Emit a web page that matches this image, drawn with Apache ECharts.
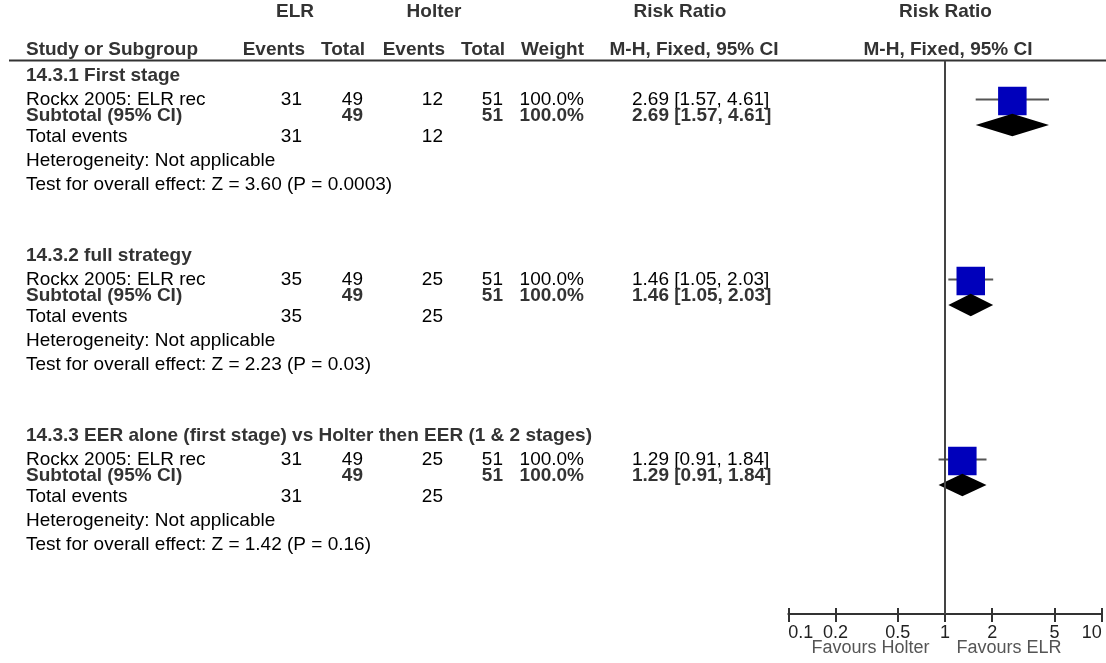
<!DOCTYPE html>
<html><head><meta charset="utf-8">
<script src="https://cdn.jsdelivr.net/npm/echarts@6/dist/echarts.min.js"></script>
<style>html,body{margin:0;padding:0;background:#fff}#c{width:1106px;height:663px}</style>
</head><body><div id="c"></div>
<script>
// ---------- DATA ----------
const groupTitles = ['14.3.1 First stage', '14.3.2 full strategy', '14.3.3 EER alone (first stage) vs Holter then EER (1 & 2 stages)'];
const studyNames = ['Rockx 2005: ELR rec', 'Rockx 2005: ELR rec', 'Rockx 2005: ELR rec'];
const elrEvents = [31, 35, 31];
const elrTotal = [49, 49, 49];
const holterEvents = [12, 25, 25];
const holterTotal = [51, 51, 51];
const weights = [100, 100, 100];
const rr = [2.69, 1.46, 1.29];
const rrLow = [1.57, 1.05, 0.91];
const rrHigh = [4.61, 2.03, 1.84];
const subRr = [2.69, 1.46, 1.29];
const subLow = [1.57, 1.05, 0.91];
const subHigh = [4.61, 2.03, 1.84];
const zValues = ['3.60', '2.23', '1.42'];
const pValues = ['0.0003', '0.03', '0.16'];
const tickValues = [0.1, 0.2, 0.5, 1, 2, 5, 10];
const favourLabels = ['Favours Holter', 'Favours ELR'];

// ---------- LAYOUT ----------
const FONT = "'Liberation Sans', Arial, Helvetica, sans-serif";
const FS = 19;
const TOP = 60.5, AXIS_Y = 614, ROW = 24;
const GROUP_STEP = 7.5;
const R_TITLE = 0.625, R_STUDY = 1.625, R_SUB = 2.29, R_TOTAL = 3.17, R_HET = 4.17, R_TEST = 5.17;
const R_SQUARE = 1.625, R_DIAMOND = 2.6875;
const C_NAME = 26, C_ELR_EV = 302, C_ELR_TOT = 363, C_HOL_EV = 443, C_HOL_TOT = 503, C_W = 584, C_CI = 632;
const HDR_Y1 = 12, HDR_Y2 = 49.3;
const rowPx = r => TOP + r * ROW;

const graphics = [];
function txt(x, y, text, align, bold, color, size) {
  graphics.push({type: 'text', silent: true, style: {
    x: x, y: y, text: String(text), textAlign: align || 'left', textVerticalAlign: 'middle',
    font: (bold ? 'bold ' : '') + (size || FS) + 'px ' + FONT, fill: color || '#000'
  }});
}
const HDR = '#333';
// Column headers
txt(295, HDR_Y1, 'ELR', 'center', true, HDR);
txt(434, HDR_Y1, 'Holter', 'center', true, HDR);
txt(680, HDR_Y1, 'Risk Ratio', 'center', true, HDR);
txt(945.5, HDR_Y1, 'Risk Ratio', 'center', true, HDR);
txt(C_NAME, HDR_Y2, 'Study or Subgroup', 'left', true, HDR);
txt(305, HDR_Y2, 'Events', 'right', true, HDR);
txt(365, HDR_Y2, 'Total', 'right', true, HDR);
txt(445, HDR_Y2, 'Events', 'right', true, HDR);
txt(505, HDR_Y2, 'Total', 'right', true, HDR);
txt(C_W, HDR_Y2, 'Weight', 'right', true, HDR);
txt(694, HDR_Y2, 'M-H, Fixed, 95% CI', 'center', true, HDR);
txt(948, HDR_Y2, 'M-H, Fixed, 95% CI', 'center', true, HDR);
graphics.push({type: 'line', silent: true, shape: {x1: 9, y1: TOP, x2: 1106, y2: TOP}, style: {stroke: '#333', lineWidth: 2}});

const fmtCI = (e, l, h) => e.toFixed(2) + ' [' + l.toFixed(2) + ', ' + h.toFixed(2) + ']';
const studyData = [], diamondData = [];
groupTitles.forEach((t, g) => {
  const b = g * GROUP_STEP;
  txt(C_NAME, rowPx(b + R_TITLE), t, 'left', true, HDR);
  let y = rowPx(b + R_STUDY);
  txt(C_NAME, y, studyNames[g]);
  txt(C_ELR_EV, y, elrEvents[g], 'right');
  txt(C_ELR_TOT, y, elrTotal[g], 'right');
  txt(C_HOL_EV, y, holterEvents[g], 'right');
  txt(C_HOL_TOT, y, holterTotal[g], 'right');
  txt(C_W, y, weights[g].toFixed(1) + '%', 'right');
  txt(C_CI, y, fmtCI(rr[g], rrLow[g], rrHigh[g]), 'left');
  y = rowPx(b + R_SUB);
  txt(C_NAME, y, 'Subtotal (95% CI)', 'left', true, HDR);
  txt(C_ELR_TOT, y, elrTotal[g], 'right', true, HDR);
  txt(C_HOL_TOT, y, holterTotal[g], 'right', true, HDR);
  txt(C_W, y, '100.0%', 'right', true, HDR);
  txt(C_CI, y, fmtCI(subRr[g], subLow[g], subHigh[g]), 'left', true, HDR);
  y = rowPx(b + R_TOTAL);
  txt(C_NAME, y, 'Total events');
  txt(C_ELR_EV, y, elrEvents[g], 'right');
  txt(C_HOL_EV, y, holterEvents[g], 'right');
  txt(C_NAME, rowPx(b + R_HET), 'Heterogeneity: Not applicable');
  txt(C_NAME, rowPx(b + R_TEST), 'Test for overall effect: Z = ' + zValues[g] + ' (P = ' + pValues[g] + ')');
  studyData.push([rr[g], rrLow[g], rrHigh[g], b + R_SQUARE, weights[g]]);
  diamondData.push([subRr[g], subLow[g], subHigh[g], b + R_DIAMOND]);
});
txt(870.5, 648, favourLabels[0], 'center', false, '#555', 18);
txt(1009, 648, favourLabels[1], 'center', false, '#555', 18);

const chart = echarts.init(document.getElementById('c'), null, {renderer: 'canvas'});
const axisBase = {type: 'log', logBase: 10, min: 0.1, max: 10, position: 'bottom', splitLine: {show: false}};
chart.setOption({
  animation: false,
  backgroundColor: '#fff',
  grid: {left: 788.3, right: 4.3, top: TOP, bottom: 663 - AXIS_Y, containLabel: false, outerBoundsMode: 'none'},
  xAxis: [
    Object.assign({}, axisBase, {
      axisLine: {show: true, onZero: false, lineStyle: {color: '#333', width: 2}},
      axisTick: {show: true, length: 8, lineStyle: {color: '#333', width: 2}, customValues: tickValues},
      axisLabel: {show: true, margin: 10, fontSize: 18, fontFamily: FONT, color: '#222', customValues: tickValues,
        alignMinLabel: 'left', alignMaxLabel: 'right', hideOverlap: false,
        formatter: v => String(Number(Number(v).toPrecision(2)))}
    }),
    Object.assign({}, axisBase, {
      axisLine: {show: false, onZero: false},
      axisTick: {show: true, inside: true, length: 6, lineStyle: {color: '#333', width: 2}, customValues: tickValues},
      axisLabel: {show: false}
    })
  ],
  yAxis: {type: 'value', min: 0, max: (AXIS_Y - TOP) / ROW, inverse: true, show: false},
  series: [
    {
      type: 'custom', xAxisIndex: 0, yAxisIndex: 0, data: studyData, encode: {x: [0, 1, 2], y: 3},
      renderItem: (params, api) => {
        const y = api.value(3);
        const lo = api.coord([api.value(1), y]);
        const hi = api.coord([api.value(2), y]);
        const c = api.coord([api.value(0), y]);
        const s = 28.5 * Math.sqrt(api.value(4) / 100);
        return {type: 'group', children: [
          {type: 'line', shape: {x1: lo[0], y1: lo[1], x2: hi[0], y2: hi[1]}, style: {stroke: '#555', lineWidth: 2}},
          {type: 'rect', shape: {x: c[0] - s / 2, y: c[1] - s / 2 + 1.5, width: s, height: s}, style: {fill: '#0000BB'}}
        ]};
      },
      markLine: {silent: true, symbol: 'none', label: {show: false}, animation: false,
        lineStyle: {color: '#444', width: 2, type: 'solid'}, data: [{xAxis: 1}]}
    },
    {
      type: 'custom', xAxisIndex: 0, yAxisIndex: 0, data: diamondData, encode: {x: [0, 1, 2], y: 3},
      renderItem: (params, api) => {
        const y = api.value(3);
        const lo = api.coord([api.value(1), y]);
        const hi = api.coord([api.value(2), y]);
        const c = api.coord([api.value(0), y]);
        const h = 11.3;
        return {type: 'polygon', shape: {points: [[lo[0], c[1]], [c[0], c[1] - h], [hi[0], c[1]], [c[0], c[1] + h]]},
          style: {fill: '#000'}};
      }
    }
  ],
  graphic: graphics
});
</script>
</body></html>
